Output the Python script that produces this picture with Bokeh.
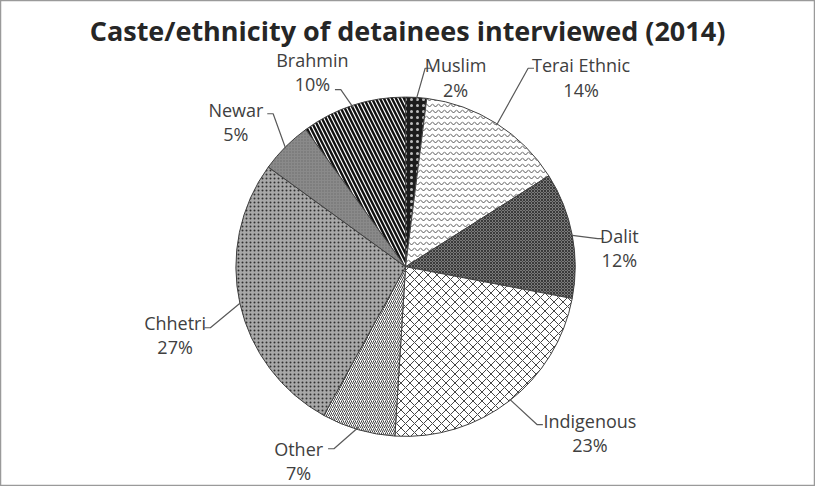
import math
from bokeh.plotting import figure
from bokeh.models import ColumnDataSource, Range1d
from bokeh.core.properties import value
from bokeh.embed import file_html
from bokeh.resources import INLINE

# ---- data ----
categories = ["Muslim", "Terai Ethnic", "Dalit", "Indigenous", "Other", "Chhetri", "Newar", "Brahmin"]
percents = [2, 14, 12, 23, 7, 27, 5, 10]
title_text = "Caste/ethnicity of detainees interviewed (2014)"

# ---- styles ----
fill_colors = ["#1c1c1c", "#ffffff", "#7a7a7a", "#ffffff", "#ffffff", "#a8a8a8", "#8a8a8a", "#ffffff"]
hatch_patterns = ["dot", "horizontal_wave", "diagonal_cross", "diagonal_cross", "right_diagonal_line",
                  "dot", "dot", "left_diagonal_line"]
hatch_colors = ["#bbbbbb", "#555555", "#3a3a3a", "#444444", "#444444", "#303030", "#6a6a6a", "#111111"]
hatch_scales = [6, 6, 3, 9, 4, 4, 3, 8]
hatch_weights = [1.2, 1.0, 1.0, 1.0, 1.0, 1.5, 1.0, 2.4]

# ---- layout (reference pixel coordinates, y downward) ----
W, H = 815, 486          # figure size on the page
RW, RH = 831, 502        # reference canvas size mapped onto the figure
cx, cy, R = 413, 275, 173
label_pos = [(464, 67), (592, 67), (631, 243), (601, 434), (304, 463), (178, 333), (240, 113), (318, 61)]
elbow = [(433, 70), (538, 70), (609, 246), (547, 438), (340, 463), (214, 338), (278, 117), (347, 92)]
tick_dir = [1, 1, 1, 1, -1, -1, -1, -1]
line_gap = 25

p = figure(width=W, height=H, output_backend="svg", toolbar_location=None,
           x_axis_location=None, y_axis_location=None, min_border=0,
           x_range=Range1d(0, RW), y_range=Range1d(-RH, 0))
p.grid.visible = False
p.outline_line_color = "#9a9a9a"
p.outline_line_width = 1.5
p.background_fill_color = "white"
p.border_fill_color = "white"

total = float(sum(percents))
starts, ends, mids = [], [], []
cum = 0.0
for v in percents:
    a0 = math.pi / 2 - 2 * math.pi * cum / total
    cum += v
    a1 = math.pi / 2 - 2 * math.pi * cum / total
    starts.append(a1)
    ends.append(a0)
    mids.append((a0 + a1) / 2)

src = ColumnDataSource(dict(
    x=[cx] * len(percents), y=[-cy] * len(percents),
    start=starts, end=ends,
    fill=fill_colors, hp=hatch_patterns, hc=hatch_colors, hs=hatch_scales, hw=hatch_weights,
))
p.wedge(x="x", y="y", radius=R, start_angle="start", end_angle="end", source=src,
        fill_color="fill", hatch_pattern="hp", hatch_color="hc", hatch_scale="hs",
        hatch_weight="hw", line_color="#404040", line_width=1)

# leader lines
lx, ly = [], []
for m, (ex, ey), d in zip(mids, elbow, tick_dir):
    sx = cx + R * math.cos(m)
    sy = cy - R * math.sin(m)
    lx.append([sx, ex, ex + 6 * d])
    ly.append([-sy, -ey, -ey])
p.multi_line(xs=lx, ys=ly, line_color="#595959", line_width=1.2)

# labels
name_x = [pos[0] for pos in label_pos]
name_y = [-pos[1] for pos in label_pos]
pct_y = [-(pos[1] + line_gap) for pos in label_pos]
pct_txt = ["%d%%" % v for v in percents]
p.text(x=name_x, y=name_y, text=categories, text_align="center", text_baseline="middle",
       text_font=value("Open Sans"), text_font_size="18px", text_color="#404040")
p.text(x=name_x, y=pct_y, text=pct_txt, text_align="center", text_baseline="middle",
       text_font=value("Open Sans"), text_font_size="18px", text_color="#404040")

# title
p.text(x=[415], y=[-31], text=[title_text], text_align="center", text_baseline="middle",
       text_font=value("Open Sans"), text_font_style="bold", text_font_size="27px",
       text_color="#262626")

open("out.html", "w").write(file_html(p, INLINE))
